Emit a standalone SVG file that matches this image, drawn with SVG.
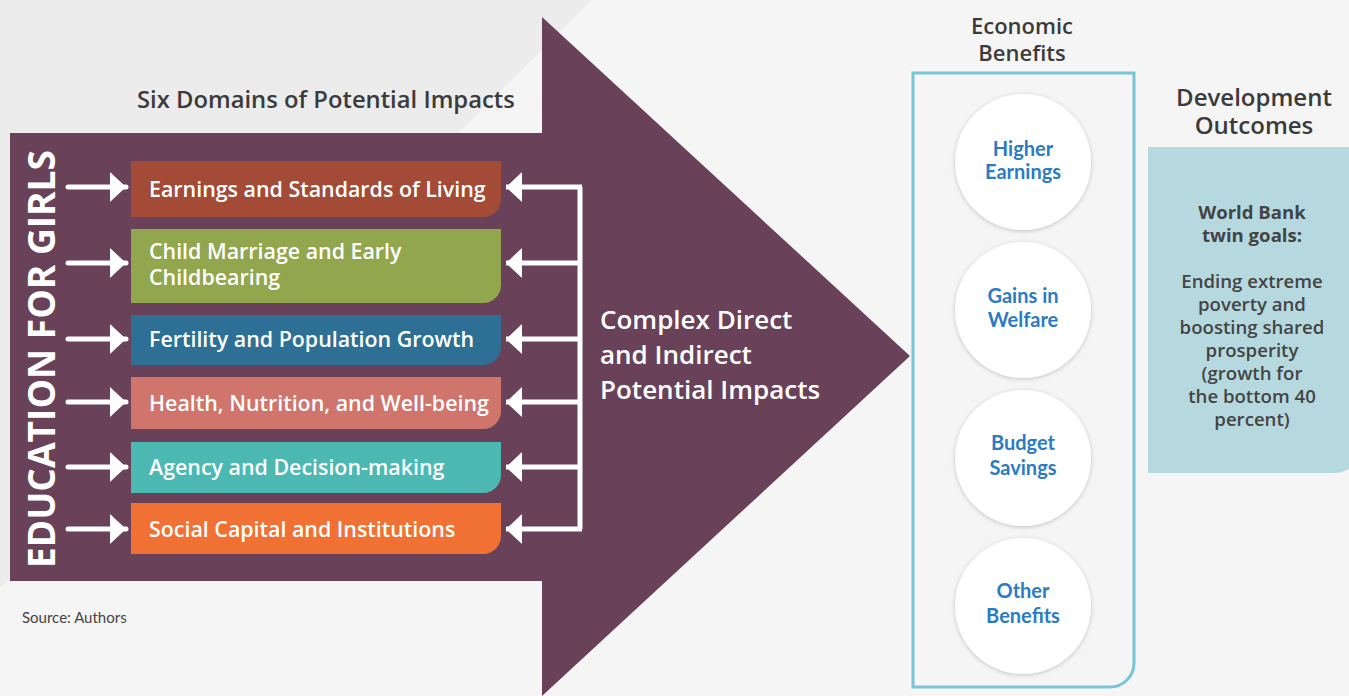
<svg xmlns="http://www.w3.org/2000/svg" width="1349" height="696" viewBox="0 0 1349 696">
<style>
.box-t{font-family:"Open Sans","Noto Sans",sans-serif;font-weight:600;font-size:21.4px;fill:#ffffff}
.head{font-family:"Open Sans","Noto Sans",sans-serif;font-weight:600;fill:#3b3b3b}
.circ{fill:#ffffff;filter:url(#sh)}
.circ-t{font-family:Lato,"Open Sans",sans-serif;font-weight:700;font-size:20px;fill:#2b7bc4;text-anchor:middle}
.conn{fill:none;stroke:#ffffff;stroke-width:5}
.dev{font-family:"Open Sans","Noto Sans",sans-serif;font-size:18.6px;fill:#444444;text-anchor:middle}
</style>
<defs>
<filter id="sh" x="-20%" y="-20%" width="140%" height="140%">
<feDropShadow dx="0" dy="1" stdDeviation="2" flood-color="#000" flood-opacity="0.22"/>
</filter>
<marker id="ah" markerUnits="userSpaceOnUse" markerWidth="20" markerHeight="32" viewBox="0 -16 20 32" refX="16" refY="0" orient="auto">
<path d="M0,-15 L16,0 L0,15 Z" fill="#ffffff"/>
</marker>
</defs>
<rect x="0" y="0" width="1349" height="696" fill="#f5f5f5"/>
<polygon points="0,0 592,0 0,588" fill="#ebeceb"/>
<g id="big-arrow">
<polygon points="10,133 542,133 542,17 910,356 542,696 542,581 10,581" fill="#69425a"/>
<text x="600" y="329" font-family="Open Sans, Noto Sans, sans-serif" font-weight="600" font-size="26" fill="#ffffff">Complex Direct</text>
<text x="600" y="364" font-family="Open Sans, Noto Sans, sans-serif" font-weight="600" font-size="26" fill="#ffffff">and Indirect</text>
<text x="600" y="399" font-family="Open Sans, Noto Sans, sans-serif" font-weight="600" font-size="26" fill="#ffffff">Potential Impacts</text>
</g>
<g id="education">
<text transform="translate(55,568) rotate(-90)" font-family="Open Sans, Noto Sans, sans-serif" font-weight="700" font-size="38" fill="#ffffff" textLength="418" lengthAdjust="spacingAndGlyphs">EDUCATION FOR GIRLS</text>
</g>
<text class="head" x="137" y="108" font-size="23.8">Six Domains of Potential Impacts</text>
<g id="d1"><path d="M131,161 H501 V199 A18,18 0 0 1 483,217 H131 Z" fill="#a34b37"/><text class="box-t" x="149" y="197">Earnings and Standards of Living</text></g>
<g id="d2"><path d="M131,229 H501 V285 A18,18 0 0 1 483,303 H131 Z" fill="#92a64e"/><text class="box-t" x="149" y="259">Child Marriage and Early</text><text class="box-t" x="149" y="285">Childbearing</text></g>
<g id="d3"><path d="M131,315 H501 V347 A18,18 0 0 1 483,365 H131 Z" fill="#2e7095"/><text class="box-t" x="149" y="347">Fertility and Population Growth</text></g>
<g id="d4"><path d="M131,377 H501 V411 A18,18 0 0 1 483,429 H131 Z" fill="#cf756b"/><text class="box-t" x="149" y="411">Health, Nutrition, and Well-being</text></g>
<g id="d5"><path d="M131,442 H501 V475 A18,18 0 0 1 483,493 H131 Z" fill="#4cb8b2"/><text class="box-t" x="149" y="475">Agency and Decision-making</text></g>
<g id="d6"><path d="M131,503 H501 V536 A18,18 0 0 1 483,554 H131 Z" fill="#f07133"/><text class="box-t" x="149" y="537">Social Capital and Institutions</text></g>
<g id="connectors">
<path class="conn" stroke-linecap="round" d="M68,187 H126" marker-end="url(#ah)"/>
<path class="conn" stroke-linecap="round" d="M68,263 H126" marker-end="url(#ah)"/>
<path class="conn" stroke-linecap="round" d="M68,339 H126" marker-end="url(#ah)"/>
<path class="conn" stroke-linecap="round" d="M68,402 H126" marker-end="url(#ah)"/>
<path class="conn" stroke-linecap="round" d="M68,467 H126" marker-end="url(#ah)"/>
<path class="conn" stroke-linecap="round" d="M68,529 H126" marker-end="url(#ah)"/>
<path class="conn" d="M580,187 V529"/>
<path class="conn" d="M582,187 H506" marker-end="url(#ah)"/>
<path class="conn" d="M580,263 H506" marker-end="url(#ah)"/>
<path class="conn" d="M580,339 H506" marker-end="url(#ah)"/>
<path class="conn" d="M580,402 H506" marker-end="url(#ah)"/>
<path class="conn" d="M580,467 H506" marker-end="url(#ah)"/>
<path class="conn" d="M582,529 H506" marker-end="url(#ah)"/>
</g>
<text x="22" y="623" font-family="Lato, Open Sans, sans-serif" font-size="15" fill="#444444">Source: Authors</text>
<g id="economic">
<text class="head" x="1022" y="34" font-size="22" text-anchor="middle">Economic</text>
<text class="head" x="1022" y="61" font-size="22" text-anchor="middle">Benefits</text>
<path d="M913,73 H1134 V663 A24,24 0 0 1 1110,687 H913 Z" fill="none" stroke="#79c4d5" stroke-width="3"/>
</g>
<g id="c1"><circle class="circ" cx="1023" cy="162" r="68"/><text class="circ-t" x="1023" y="156">Higher</text><text class="circ-t" x="1023" y="179">Earnings</text></g>
<g id="c2"><circle class="circ" cx="1023" cy="310" r="68"/><text class="circ-t" x="1023" y="303">Gains in</text><text class="circ-t" x="1023" y="327">Welfare</text></g>
<g id="c3"><circle class="circ" cx="1023" cy="458" r="68"/><text class="circ-t" x="1023" y="450">Budget</text><text class="circ-t" x="1023" y="475">Savings</text></g>
<g id="c4"><circle class="circ" cx="1023" cy="606" r="68"/><text class="circ-t" x="1023" y="598">Other</text><text class="circ-t" x="1023" y="623">Benefits</text></g>
<g id="development">
<text class="head" x="1254" y="106" font-size="24" text-anchor="middle">Development</text>
<text class="head" x="1254" y="134" font-size="24" text-anchor="middle">Outcomes</text>
<path d="M1148,147 H1360 V448 A25,25 0 0 1 1335,473 H1148 Z" fill="#b6d9df"/>
<text class="dev" x="1252" y="219" font-weight="700">World Bank</text>
<text class="dev" x="1252" y="242" font-weight="700">twin goals:</text>
<text class="dev" x="1252" y="288" font-weight="600">Ending extreme</text>
<text class="dev" x="1252" y="311" font-weight="600">poverty and</text>
<text class="dev" x="1252" y="334" font-weight="600">boosting shared</text>
<text class="dev" x="1252" y="357" font-weight="600">prosperity</text>
<text class="dev" x="1252" y="380" font-weight="600">(growth for</text>
<text class="dev" x="1252" y="403" font-weight="600">the bottom 40</text>
<text class="dev" x="1252" y="426" font-weight="600">percent)</text>
</g>
</svg>
